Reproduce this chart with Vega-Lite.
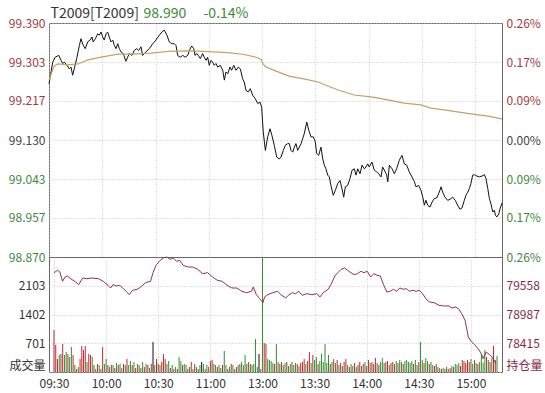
{
"$schema": "https://vega.github.io/schema/vega-lite/v6.json",
"background": "white",
"padding": {"left": 7, "top": 5, "right": 7, "bottom": 4},
"bounds": "flush",
"spacing": 0,
"config": {
  "font": "Noto Sans CJK SC",
  "view": {"stroke": "#666", "strokeWidth": 1},
  "axis": {"labelFont": "Noto Sans CJK SC", "labelFontSize": 12, "ticks": false, "domain": false, "gridColor": "#c4c4c4", "gridDash": [1, 2], "labelColor": "#333", "titleFont": "Noto Sans CJK SC"}
},
"datasets": {
  "price": [
    {"m":0,"p":99.255},{"m":2.1,"p":99.303},{"m":3.5,"p":99.314},{"m":5.5,"p":99.318},{"m":6.8,"p":99.307},{"m":7.7,"p":99.300},{"m":8.6,"p":99.303},{"m":10.0,"p":99.297},{"m":11.4,"p":99.288},{"m":12.4,"p":99.292},{"m":13.3,"p":99.274},{"m":14.2,"p":99.288},{"m":15.6,"p":99.311},{"m":17.1,"p":99.340},{"m":18.0,"p":99.355},{"m":19.3,"p":99.340},{"m":20.4,"p":99.333},{"m":21.8,"p":99.348},{"m":23.1,"p":99.352},{"m":24.2,"p":99.359},{"m":24.9,"p":99.348},{"m":26.1,"p":99.355},{"m":27.4,"p":99.366},{"m":28.3,"p":99.363},{"m":29.3,"p":99.370},{"m":30.2,"p":99.359},{"m":31.1,"p":99.352},{"m":32.1,"p":99.366},{"m":33.0,"p":99.370},{"m":33.9,"p":99.359},{"m":34.9,"p":99.348},{"m":35.9,"p":99.352},{"m":36.8,"p":99.340},{"m":37.7,"p":99.333},{"m":38.7,"p":99.344},{"m":39.6,"p":99.333},{"m":40.5,"p":99.326},{"m":41.8,"p":99.322},{"m":43.3,"p":99.305},{"m":44.3,"p":99.314},{"m":45.2,"p":99.322},{"m":46.7,"p":99.318},{"m":48.0,"p":99.329},{"m":49.4,"p":99.333},{"m":50.5,"p":99.329},{"m":51.8,"p":99.337},{"m":52.7,"p":99.318},{"m":53.6,"p":99.322},{"m":54.6,"p":99.326},{"m":56.5,"p":99.333},{"m":58.4,"p":99.344},{"m":60.2,"p":99.352},{"m":62.1,"p":99.363},{"m":64.0,"p":99.372},{"m":64.9,"p":99.374},{"m":66.4,"p":99.363},{"m":67.7,"p":99.348},{"m":69.1,"p":99.344},{"m":70.5,"p":99.344},{"m":71.5,"p":99.340},{"m":72.4,"p":99.318},{"m":73.9,"p":99.314},{"m":75.3,"p":99.318},{"m":76.6,"p":99.314},{"m":78.1,"p":99.318},{"m":79.0,"p":99.329},{"m":80.3,"p":99.339},{"m":81.5,"p":99.333},{"m":82.2,"p":99.318},{"m":83.3,"p":99.322},{"m":84.0,"p":99.318},{"m":85.2,"p":99.311},{"m":86.5,"p":99.322},{"m":87.4,"p":99.314},{"m":88.4,"p":99.307},{"m":89.3,"p":99.314},{"m":90.2,"p":99.296},{"m":91.2,"p":99.307},{"m":92.1,"p":99.303},{"m":93.0,"p":99.296},{"m":94.0,"p":99.300},{"m":95.0,"p":99.292},{"m":96.4,"p":99.296},{"m":97.8,"p":99.285},{"m":98.7,"p":99.263},{"m":99.6,"p":99.281},{"m":100.6,"p":99.277},{"m":101.9,"p":99.292},{"m":102.8,"p":99.285},{"m":104.0,"p":99.296},{"m":105.3,"p":99.285},{"m":106.6,"p":99.292},{"m":107.7,"p":99.288},{"m":109.0,"p":99.266},{"m":109.9,"p":99.259},{"m":110.9,"p":99.240},{"m":112.2,"p":99.237},{"m":113.3,"p":99.244},{"m":114.7,"p":99.229},{"m":116.1,"p":99.222},{"m":117.5,"p":99.211},{"m":118.8,"p":99.214},{"m":119.7,"p":99.203},
    {"m":120.6,"p":99.148},{"m":121.8,"p":99.107},{"m":123.1,"p":99.137},{"m":124.4,"p":99.155},{"m":125.5,"p":99.140},{"m":126.8,"p":99.118},{"m":128.2,"p":99.092},{"m":129.6,"p":99.088},{"m":130.6,"p":99.092},{"m":131.9,"p":99.107},{"m":133.0,"p":99.118},{"m":134.4,"p":99.122},{"m":135.3,"p":99.122},{"m":136.2,"p":99.107},{"m":137.2,"p":99.103},{"m":138.1,"p":99.114},{"m":139.0,"p":99.122},{"m":140.0,"p":99.107},{"m":140.9,"p":99.114},{"m":141.9,"p":99.122},{"m":142.8,"p":99.133},{"m":143.7,"p":99.144},{"m":145.1,"p":99.170},{"m":146.2,"p":99.152},{"m":147.5,"p":99.137},{"m":148.8,"p":99.137},{"m":149.9,"p":99.126},{"m":150.7,"p":99.100},{"m":151.8,"p":99.096},{"m":153.1,"p":99.114},{"m":154.1,"p":99.088},{"m":155.0,"p":99.074},{"m":155.9,"p":99.066},{"m":156.9,"p":99.052},{"m":157.8,"p":99.048},{"m":158.7,"p":99.029},{"m":160.0,"p":99.007},{"m":161.2,"p":99.018},{"m":162.5,"p":99.033},{"m":163.8,"p":99.040},{"m":164.9,"p":99.022},{"m":165.9,"p":99.003},{"m":166.8,"p":99.026},{"m":168.1,"p":99.029},{"m":169.4,"p":99.044},{"m":170.6,"p":99.063},{"m":171.9,"p":99.066},{"m":172.8,"p":99.052},{"m":173.8,"p":99.066},{"m":175.1,"p":99.055},{"m":176.2,"p":99.074},{"m":177.5,"p":99.066},{"m":178.4,"p":99.070},{"m":179.4,"p":99.077},{"m":180.3,"p":99.070},{"m":181.8,"p":99.081},{"m":183.1,"p":99.063},{"m":184.5,"p":99.059},{"m":185.6,"p":99.055},{"m":186.9,"p":99.048},{"m":187.8,"p":99.070},{"m":189.3,"p":99.059},{"m":190.1,"p":99.052},{"m":190.7,"p":99.037},{"m":191.6,"p":99.074},{"m":193.1,"p":99.066},{"m":194.4,"p":99.055},{"m":195.7,"p":99.066},{"m":197.2,"p":99.085},{"m":198.7,"p":99.096},{"m":200.0,"p":99.077},{"m":201.4,"p":99.074},{"m":202.8,"p":99.059},{"m":204.3,"p":99.048},{"m":205.6,"p":99.038},{"m":206.6,"p":99.026},{"m":208.1,"p":99.029},{"m":209.4,"p":99.018},{"m":210.4,"p":99.003},{"m":211.3,"p":98.985},{"m":212.2,"p":98.996},{"m":213.2,"p":98.985},{"m":214.5,"p":98.981},{"m":215.6,"p":98.992},{"m":216.9,"p":99.000},{"m":218.2,"p":99.001},{"m":219.7,"p":99.014},{"m":220.7,"p":99.026},{"m":221.6,"p":99.014},{"m":222.9,"p":99.003},{"m":224.4,"p":98.996},{"m":225.7,"p":98.998},{"m":227.2,"p":99.003},{"m":228.7,"p":98.996},{"m":230.0,"p":98.985},{"m":231.4,"p":98.976},{"m":232.5,"p":98.979},{"m":233.8,"p":98.996},{"m":234.7,"p":99.007},{"m":235.7,"p":99.014},{"m":236.6,"p":99.022},{"m":237.5,"p":99.033},{"m":238.5,"p":99.052},{"m":239.4,"p":99.053},{"m":240.8,"p":99.050},{"m":242.3,"p":99.048},{"m":243.8,"p":99.050},{"m":245.1,"p":99.053},{"m":246.0,"p":99.044},{"m":247.0,"p":99.022},{"m":247.9,"p":99.000},{"m":248.8,"p":98.988},{"m":249.8,"p":98.970},{"m":250.7,"p":98.974},{"m":251.3,"p":98.963},{"m":252.1,"p":98.959},{"m":253.2,"p":98.966},{"m":253.9,"p":98.977},{"m":255.0,"p":98.990}
  ],
  "avg": [
    {"m":0,"p":99.263},{"m":2.8,"p":99.294},{"m":5.1,"p":99.299},{"m":10.7,"p":99.297},{"m":16.3,"p":99.299},{"m":21.9,"p":99.308},{"m":29.3,"p":99.314},{"m":38.8,"p":99.321},{"m":47.8,"p":99.321},{"m":57.4,"p":99.323},{"m":67.0,"p":99.327},{"m":78.2,"p":99.328},{"m":87.2,"p":99.327},{"m":100.8,"p":99.324},{"m":109.8,"p":99.320},{"m":116.5,"p":99.314},{"m":119.4,"p":99.309},{"m":120.5,"p":99.299},{"m":122.2,"p":99.292},{"m":127.8,"p":99.283},{"m":135.1,"p":99.272},{"m":143.5,"p":99.266},{"m":151.4,"p":99.259},{"m":162.7,"p":99.241},{"m":171.7,"p":99.230},{"m":181.3,"p":99.226},{"m":190.8,"p":99.219},{"m":199.8,"p":99.212},{"m":209.4,"p":99.208},{"m":215.0,"p":99.201},{"m":222.3,"p":99.197},{"m":237.5,"p":99.188},{"m":247.1,"p":99.183},{"m":255.0,"p":99.177}
  ],
  "oi": [
    {"m":0,"o":79818},{"m":2.1,"o":79865},{"m":3.4,"o":79831},{"m":4.9,"o":79647},{"m":6.4,"o":79732},{"m":7.7,"o":79752},{"m":9.6,"o":79698},{"m":12.4,"o":79633},{"m":14.2,"o":79579},{"m":16.5,"o":79712},{"m":19.0,"o":79698},{"m":21.8,"o":79712},{"m":25.5,"o":79698},{"m":28.3,"o":79647},{"m":31.1,"o":79567},{"m":32.6,"o":79513},{"m":33.9,"o":79579},{"m":35.9,"o":79553},{"m":37.7,"o":79567},{"m":39.6,"o":79513},{"m":41.5,"o":79448},{"m":43.3,"o":79380},{"m":45.2,"o":79468},{"m":48.0,"o":79488},{"m":49.9,"o":79533},{"m":52.7,"o":79619},{"m":55.6,"o":79647},{"m":57.0,"o":79818},{"m":58.9,"o":79977},{"m":61.2,"o":80064},{"m":63.0,"o":80110},{"m":64.9,"o":80130},{"m":66.8,"o":80084},{"m":68.7,"o":80110},{"m":70.5,"o":80044},{"m":72.4,"o":80064},{"m":74.3,"o":79965},{"m":77.1,"o":79931},{"m":79.9,"o":79931},{"m":82.7,"o":79885},{"m":85.6,"o":79798},{"m":88.4,"o":79818},{"m":91.2,"o":79732},{"m":94.0,"o":79667},{"m":96.8,"o":79647},{"m":99.6,"o":79567},{"m":102.4,"o":79513},{"m":105.3,"o":79513},{"m":108.1,"o":79448},{"m":110.9,"o":79420},{"m":113.7,"o":79448},{"m":114.7,"o":79533},{"m":116.5,"o":79380},{"m":118.4,"o":79301},{"m":120.3,"o":79221},{"m":121.2,"o":79335},{"m":123.1,"o":79380},{"m":125.9,"o":79420},{"m":128.7,"o":79448},{"m":130.6,"o":79380},{"m":133.4,"o":79315},{"m":135.3,"o":79380},{"m":137.2,"o":79420},{"m":139.0,"o":79400},{"m":140.9,"o":79448},{"m":142.8,"o":79368},{"m":145.6,"o":79400},{"m":148.4,"o":79380},{"m":151.3,"o":79400},{"m":153.1,"o":79335},{"m":155.0,"o":79420},{"m":157.8,"o":79488},{"m":159.7,"o":79599},{"m":161.6,"o":79752},{"m":163.4,"o":79818},{"m":165.3,"o":79885},{"m":167.2,"o":79911},{"m":169.0,"o":79865},{"m":170.9,"o":79818},{"m":172.8,"o":79778},{"m":174.7,"o":79798},{"m":176.6,"o":79845},{"m":178.4,"o":79818},{"m":180.3,"o":79845},{"m":182.2,"o":79732},{"m":184.1,"o":79798},{"m":185.9,"o":79766},{"m":187.8,"o":79752},{"m":189.7,"o":79579},{"m":191.6,"o":79434},{"m":193.5,"o":79448},{"m":195.3,"o":79488},{"m":197.2,"o":79448},{"m":199.1,"o":79513},{"m":201.0,"o":79488},{"m":202.8,"o":79500},{"m":204.7,"o":79448},{"m":206.6,"o":79468},{"m":208.5,"o":79448},{"m":210.4,"o":79468},{"m":212.2,"o":79400},{"m":214.1,"o":79301},{"m":216.0,"o":79235},{"m":218.8,"o":79221},{"m":221.6,"o":79169},{"m":224.4,"o":79156},{"m":227.3,"o":79156},{"m":229.1,"o":79116},{"m":231.0,"o":79136},{"m":232.9,"o":79102},{"m":234.7,"o":79003},{"m":236.6,"o":78871},{"m":238.5,"o":78539},{"m":240.4,"o":78440},{"m":242.2,"o":78386},{"m":244.1,"o":78307},{"m":246.0,"o":78207},{"m":247.0,"o":78108},{"m":248.8,"o":78241},{"m":250.7,"o":78187},{"m":252.6,"o":78122},{"m":254.4,"o":78009}
  ],
  "vol": [
    {"m":0,"v":1025,"d":"u"},{"m":1,"v":659,"d":"u"},{"m":2,"v":317,"d":"u"},{"m":3,"v":415,"d":"d"},{"m":4,"v":439,"d":"u"},{"m":5,"v":683,"d":"u"},{"m":6,"v":415,"d":"d"},{"m":7,"v":488,"d":"d"},{"m":8,"v":439,"d":"u"},{"m":9,"v":366,"d":"d"},
    {"m":10,"v":610,"d":"d"},{"m":11,"v":415,"d":"u"},{"m":12,"v":171,"d":"d"},{"m":13,"v":73,"d":"u"},{"m":14,"v":122,"d":"d"},{"m":15,"v":317,"d":"u"},{"m":16,"v":634,"d":"u"},{"m":17,"v":537,"d":"u"},{"m":18,"v":634,"d":"u"},{"m":19,"v":244,"d":"d"},
    {"m":20,"v":439,"d":"u"},{"m":21,"v":415,"d":"u"},{"m":22,"v":366,"d":"d"},{"m":23,"v":171,"d":"u"},{"m":24,"v":73,"d":"d"},{"m":25,"v":195,"d":"u"},{"m":26,"v":171,"d":"d"},{"m":27,"v":73,"d":"u"},{"m":28,"v":610,"d":"u"},{"m":29,"v":195,"d":"d"},
    {"m":30,"v":317,"d":"d"},{"m":31,"v":171,"d":"u"},{"m":32,"v":122,"d":"d"},{"m":33,"v":171,"d":"u"},{"m":34,"v":171,"d":"d"},{"m":35,"v":98,"d":"u"},{"m":36,"v":220,"d":"d"},{"m":37,"v":171,"d":"u"},{"m":38,"v":195,"d":"d"},{"m":39,"v":98,"d":"d"},
    {"m":40,"v":195,"d":"u"},{"m":41,"v":171,"d":"d"},{"m":42,"v":317,"d":"u"},{"m":43,"v":171,"d":"d"},{"m":44,"v":268,"d":"d"},{"m":45,"v":171,"d":"u"},{"m":46,"v":244,"d":"d"},{"m":47,"v":98,"d":"u"},{"m":48,"v":195,"d":"d"},{"m":49,"v":171,"d":"u"},
    {"m":50,"v":98,"d":"d"},{"m":51,"v":244,"d":"d"},{"m":52,"v":122,"d":"u"},{"m":53,"v":195,"d":"d"},{"m":54,"v":171,"d":"u"},{"m":55,"v":98,"d":"d"},{"m":56,"v":195,"d":"u"},{"m":57,"v":732,"d":"f"},{"m":58,"v":171,"d":"d"},{"m":59,"v":317,"d":"u"},
    {"m":60,"v":195,"d":"u"},{"m":61,"v":171,"d":"d"},{"m":62,"v":244,"d":"u"},{"m":63,"v":439,"d":"u"},{"m":64,"v":317,"d":"u"},{"m":65,"v":195,"d":"d"},{"m":66,"v":268,"d":"d"},{"m":67,"v":98,"d":"u"},{"m":68,"v":171,"d":"d"},{"m":69,"v":73,"d":"u"},
    {"m":70,"v":122,"d":"d"},{"m":71,"v":73,"d":"u"},{"m":72,"v":366,"d":"d"},{"m":73,"v":268,"d":"d"},{"m":74,"v":171,"d":"u"},{"m":75,"v":195,"d":"d"},{"m":76,"v":171,"d":"d"},{"m":77,"v":73,"d":"u"},{"m":78,"v":122,"d":"d"},{"m":79,"v":244,"d":"u"},
    {"m":80,"v":73,"d":"d"},{"m":81,"v":195,"d":"u"},{"m":82,"v":122,"d":"d"},{"m":83,"v":73,"d":"u"},{"m":84,"v":171,"d":"d"},{"m":85,"v":244,"d":"f"},{"m":86,"v":195,"d":"d"},{"m":87,"v":73,"d":"u"},{"m":88,"v":171,"d":"d"},{"m":89,"v":122,"d":"d"},
    {"m":90,"v":268,"d":"u"},{"m":91,"v":293,"d":"u"},{"m":92,"v":195,"d":"d"},{"m":93,"v":171,"d":"d"},{"m":94,"v":122,"d":"u"},{"m":95,"v":171,"d":"d"},{"m":96,"v":98,"d":"d"},{"m":97,"v":171,"d":"u"},{"m":98,"v":512,"d":"d"},{"m":99,"v":171,"d":"d"},
    {"m":100,"v":73,"d":"u"},{"m":101,"v":122,"d":"d"},{"m":102,"v":195,"d":"u"},{"m":103,"v":171,"d":"d"},{"m":104,"v":73,"d":"d"},{"m":105,"v":122,"d":"u"},{"m":106,"v":171,"d":"d"},{"m":107,"v":195,"d":"u"},{"m":108,"v":244,"d":"d"},{"m":109,"v":171,"d":"d"},
    {"m":110,"v":415,"d":"d"},{"m":111,"v":195,"d":"u"},{"m":112,"v":244,"d":"d"},{"m":113,"v":195,"d":"u"},{"m":114,"v":171,"d":"d"},{"m":115,"v":195,"d":"d"},{"m":116,"v":805,"d":"d"},{"m":117,"v":122,"d":"d"},{"m":118,"v":439,"d":"f"},{"m":119,"v":73,"d":"d"},
    {"m":120,"v":2800,"d":"d"},{"m":121,"v":708,"d":"u"},{"m":122,"v":683,"d":"u"},{"m":123,"v":317,"d":"d"},{"m":124,"v":293,"d":"d"},{"m":125,"v":268,"d":"d"},{"m":126,"v":220,"d":"d"},{"m":127,"v":195,"d":"u"},{"m":128,"v":683,"d":"d"},{"m":129,"v":244,"d":"d"},
    {"m":130,"v":195,"d":"u"},{"m":131,"v":244,"d":"u"},{"m":132,"v":171,"d":"d"},{"m":133,"v":220,"d":"d"},{"m":134,"v":244,"d":"u"},{"m":135,"v":146,"d":"d"},{"m":136,"v":195,"d":"d"},{"m":137,"v":244,"d":"u"},{"m":138,"v":171,"d":"d"},{"m":139,"v":220,"d":"d"},
    {"m":140,"v":195,"d":"u"},{"m":141,"v":146,"d":"d"},{"m":142,"v":220,"d":"u"},{"m":143,"v":244,"d":"u"},{"m":144,"v":317,"d":"u"},{"m":145,"v":195,"d":"d"},{"m":146,"v":268,"d":"u"},{"m":147,"v":488,"d":"u"},{"m":148,"v":220,"d":"d"},{"m":149,"v":415,"d":"u"},
    {"m":150,"v":293,"d":"d"},{"m":151,"v":366,"d":"d"},{"m":152,"v":195,"d":"u"},{"m":153,"v":268,"d":"d"},{"m":154,"v":439,"d":"d"},{"m":155,"v":244,"d":"d"},{"m":156,"v":683,"d":"d"},{"m":157,"v":220,"d":"d"},{"m":158,"v":415,"d":"d"},{"m":159,"v":195,"d":"u"},
    {"m":160,"v":244,"d":"d"},{"m":161,"v":317,"d":"u"},{"m":162,"v":220,"d":"d"},{"m":163,"v":293,"d":"u"},{"m":164,"v":171,"d":"d"},{"m":165,"v":220,"d":"u"},{"m":166,"v":146,"d":"d"},{"m":167,"v":244,"d":"u"},{"m":168,"v":317,"d":"u"},{"m":169,"v":171,"d":"d"},
    {"m":170,"v":122,"d":"u"},{"m":171,"v":195,"d":"d"},{"m":172,"v":146,"d":"d"},{"m":173,"v":220,"d":"u"},{"m":174,"v":122,"d":"d"},{"m":175,"v":171,"d":"u"},{"m":176,"v":244,"d":"u"},{"m":177,"v":146,"d":"d"},{"m":178,"v":195,"d":"u"},{"m":179,"v":244,"d":"d"},
    {"m":180,"v":146,"d":"u"},{"m":181,"v":293,"d":"u"},{"m":182,"v":220,"d":"d"},{"m":183,"v":244,"d":"u"},{"m":184,"v":195,"d":"u"},{"m":185,"v":342,"d":"u"},{"m":186,"v":220,"d":"d"},{"m":187,"v":171,"d":"u"},{"m":188,"v":244,"d":"d"},{"m":189,"v":342,"d":"d"},
    {"m":190,"v":220,"d":"d"},{"m":191,"v":244,"d":"u"},{"m":192,"v":268,"d":"u"},{"m":193,"v":171,"d":"d"},{"m":194,"v":220,"d":"u"},{"m":195,"v":244,"d":"u"},{"m":196,"v":195,"d":"d"},{"m":197,"v":268,"d":"d"},{"m":198,"v":220,"d":"u"},{"m":199,"v":293,"d":"d"},
    {"m":200,"v":244,"d":"d"},{"m":201,"v":195,"d":"u"},{"m":202,"v":268,"d":"d"},{"m":203,"v":293,"d":"d"},{"m":204,"v":244,"d":"d"},{"m":205,"v":220,"d":"d"},{"m":206,"v":268,"d":"d"},{"m":207,"v":195,"d":"u"},{"m":208,"v":293,"d":"d"},{"m":209,"v":171,"d":"d"},
    {"m":210,"v":244,"d":"u"},{"m":211,"v":732,"d":"d"},{"m":212,"v":293,"d":"d"},{"m":213,"v":220,"d":"u"},{"m":214,"v":342,"d":"d"},{"m":215,"v":268,"d":"d"},{"m":216,"v":195,"d":"u"},{"m":217,"v":244,"d":"d"},{"m":218,"v":171,"d":"d"},{"m":219,"v":146,"d":"u"},
    {"m":220,"v":195,"d":"u"},{"m":221,"v":122,"d":"d"},{"m":222,"v":98,"d":"d"},{"m":223,"v":73,"d":"u"},{"m":224,"v":98,"d":"d"},{"m":225,"v":73,"d":"d"},{"m":226,"v":122,"d":"u"},{"m":227,"v":73,"d":"d"},{"m":228,"v":98,"d":"u"},{"m":229,"v":146,"d":"d"},
    {"m":230,"v":122,"d":"u"},{"m":231,"v":195,"d":"d"},{"m":232,"v":171,"d":"d"},{"m":233,"v":220,"d":"d"},{"m":234,"v":146,"d":"u"},{"m":235,"v":293,"d":"u"},{"m":236,"v":268,"d":"u"},{"m":237,"v":220,"d":"u"},{"m":238,"v":293,"d":"u"},{"m":239,"v":244,"d":"u"},
    {"m":240,"v":317,"d":"d"},{"m":241,"v":195,"d":"d"},{"m":242,"v":293,"d":"u"},{"m":243,"v":220,"d":"d"},{"m":244,"v":195,"d":"u"},{"m":245,"v":244,"d":"d"},{"m":246,"v":439,"d":"d"},{"m":247,"v":220,"d":"d"},{"m":248,"v":537,"d":"d"},{"m":249,"v":366,"d":"u"},
    {"m":250,"v":293,"d":"d"},{"m":251,"v":244,"d":"u"},{"m":252,"v":342,"d":"d"},{"m":253,"v":634,"d":"u"},{"m":254,"v":293,"d":"u"},{"m":255,"v":390,"d":"d"}
  ]
},
"vconcat": [
  {
    "width": 453,
    "height": 234,
    "layer": [
      {
        "data": {"name": "price"},
        "mark": {"type": "line", "color": "#111111", "strokeWidth": 1},
        "encoding": {
          "x": {"field": "m", "type": "quantitative", "scale": {"domain": [0, 255], "nice": false, "zero": false},
            "axis": {"orient": "top", "values": [0, 30, 60, 90, 120, 150, 180, 210, 240], "labels": false, "grid": true,
              "title": "-0.14%", "titleX": 154, "titleY": -6, "titleAlign": "left", "titleAnchor": null, "titleBaseline": "alphabetic", "titleColor": "#3d8a3d", "titleFontWeight": "normal", "titleFontSize": 14}},
          "y": {"field": "p", "type": "quantitative", "scale": {"domain": [98.87, 99.39], "nice": false, "zero": false},
            "axis": {"values": [98.87, 98.957, 99.043, 99.13, 99.217, 99.303, 99.39], "format": ".3f", "grid": true, "labelPadding": 4,
              "labelColor": {"condition": [{"test": "datum.value > 99.131", "value": "#a53a3a"}, {"test": "datum.value < 99.129", "value": "#3d8a3d"}], "value": "#444444"},
              "title": "T2009[T2009]", "titleAngle": 0, "titleX": 1, "titleY": -6, "titleAlign": "left", "titleAnchor": null, "titleBaseline": "alphabetic", "titleColor": "#333333", "titleFontWeight": "normal", "titleFontSize": 14}}
        }
      },
      {
        "data": {"name": "avg"},
        "mark": {"type": "line", "color": "#c9a063", "strokeWidth": 1.2},
        "encoding": {
          "x": {"field": "m", "type": "quantitative"},
          "y": {"field": "p", "type": "quantitative", "scale": {"domain": [98.87, 99.39], "nice": false, "zero": false},
            "axis": {"orient": "right", "values": [98.87, 98.957, 99.043, 99.13, 99.217, 99.303, 99.39], "grid": false, "labelPadding": 4,
              "labelExpr": "format(abs(datum.value-99.13)/99.13*100, '.2f') + '%'",
              "labelColor": {"condition": [{"test": "datum.value > 99.131", "value": "#a53a3a"}, {"test": "datum.value < 99.129", "value": "#3d8a3d"}], "value": "#444444"},
              "title": "98.990", "titleAngle": 0, "titleX": -359, "titleY": -6, "titleAlign": "left", "titleAnchor": null, "titleBaseline": "alphabetic", "titleColor": "#3d8a3d", "titleFontWeight": "normal", "titleFontSize": 14}}
        }
      }
    ],
    "resolve": {"scale": {"y": "independent"}}
  },
  {
    "width": 453,
    "height": 115,
    "layer": [
      {
        "data": {"name": "vol"},
        "mark": {"type": "bar", "width": 1},
        "encoding": {
          "x": {"field": "m", "type": "quantitative", "scale": {"domain": [0, 255], "nice": false, "zero": false},
            "axis": {"values": [0, 30, 60, 90, 120, 150, 180, 210, 240], "grid": true, "labelFlush": false, "labelOverlap": false, "labelPadding": 6, "title": null,
              "labelExpr": "['09:30','10:00','10:30','11:00','13:00','13:30','14:00','14:30','15:00'][round(datum.value/30)]"}},
          "y": {"field": "v", "type": "quantitative", "scale": {"domain": [0, 2804], "nice": false},
            "axis": {"values": [0, 701, 1402, 2103], "format": "d", "grid": true, "labelPadding": 4, "title": null,
              "labelExpr": "datum.value == 0 ? '成交量' : datum.label",
              "labelBaseline": {"condition": {"test": "datum.value == 0", "value": "bottom"}, "value": "middle"}}},
          "color": {"field": "d", "type": "nominal", "scale": {"domain": ["u", "d", "f"], "range": ["#c0282d", "#2f8f2f", "#111111"]}, "legend": null}
        }
      },
      {
        "data": {"name": "oi"},
        "mark": {"type": "line", "color": "#962f4e", "strokeWidth": 1},
        "encoding": {
          "x": {"field": "m", "type": "quantitative"},
          "y": {"field": "o", "type": "quantitative", "scale": {"domain": [77843.5, 80129.5], "nice": false, "zero": false},
            "axis": {"orient": "right", "values": [77843.5, 78415, 78987, 79558], "format": "d", "grid": false, "labelPadding": 4, "title": null,
              "labelColor": "#8b2a4a",
              "labelExpr": "datum.value < 78000 ? '持仓量' : datum.label",
              "labelBaseline": {"condition": {"test": "datum.value < 78000", "value": "bottom"}, "value": "middle"}}}
        }
      }
    ],
    "resolve": {"scale": {"y": "independent"}}
  }
]
}
